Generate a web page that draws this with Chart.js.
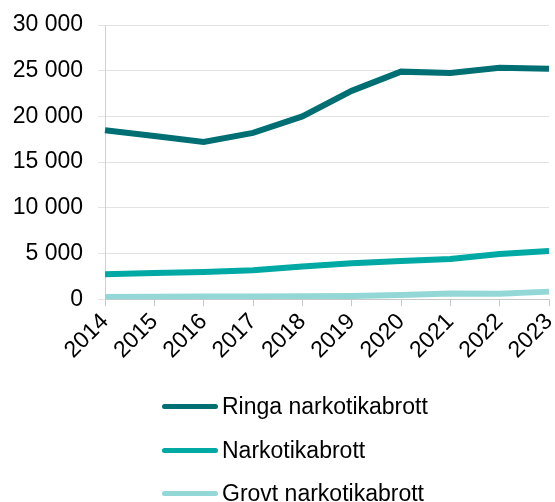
<!DOCTYPE html>
<html>
<head>
<meta charset="utf-8">
<script src="https://cdn.jsdelivr.net/npm/chart.js@4"></script>
<style>
    html, body { margin: 0; padding: 0; background: #fff; overflow: hidden; }
    .wrap { position: relative; width: 555px; height: 502px; overflow: hidden; }
    .chart-box { position: absolute; left: 0; top: 0; width: 555px; height: 380px; }
    .legend { position: absolute; left: 0; top: 0; width: 555px; height: 502px; pointer-events: none; }
    .legend-item { position: absolute; left: 162px; height: 30px; display: flex; align-items: center;
        font-family: "Liberation Sans", Arial, sans-serif; font-size: 23px; color: #000; white-space: nowrap; }
    .legend-item .swatch { width: 56px; height: 5px; border-radius: 3px; margin-right: 4px; }
</style>
</head>
<body>
<div class="wrap">
    <div class="chart-box"><canvas id="chart"></canvas></div>
    <div class="legend" id="legend"></div>
</div>
<script>
// Data
const years = ['2014', '2015', '2016', '2017', '2018', '2019', '2020', '2021', '2022', '2023'];
const ringa = [18500, 17850, 17200, 18200, 20000, 22800, 24900, 24750, 25330, 25220];
const narkotika = [2750, 2870, 2980, 3165, 3600, 3940, 4190, 4410, 4960, 5290];
const grovt = [250, 270, 300, 310, 330, 360, 480, 640, 610, 840];
const seriesNames = ['Ringa narkotikabrott', 'Narkotikabrott', 'Grovt narkotikabrott'];
const seriesColors = ['#006F73', '#00A9A4', '#93D8D6'];
const yTicks = [0, 5000, 10000, 15000, 20000, 25000, 30000];

const FONT = '"Liberation Sans", Arial, sans-serif';

function formatThousands(v) {
    return String(v).replace(/\B(?=(\d{3})+(?!\d))/g, ' ');
}

const ctx = document.getElementById('chart').getContext('2d');
const chart = new Chart(ctx, {
    type: 'line',
    data: {
        labels: years,
        datasets: [ringa, narkotika, grovt].map((values, i) => ({
            label: seriesNames[i],
            data: values,
            borderColor: seriesColors[i],
            backgroundColor: seriesColors[i],
            borderWidth: 6,
            pointRadius: 0,
            tension: 0,
            fill: false
        }))
    },
    options: {
        responsive: true,
        maintainAspectRatio: false,
        animation: false,
        layout: { padding: { top: 25, right: 6, bottom: 14, left: 0 } },
        plugins: {
            legend: { display: false },
            tooltip: { enabled: false }
        },
        scales: {
            x: {
                offset: false,
                grid: { drawOnChartArea: false, drawTicks: true, tickLength: 7, color: '#c8c8c8' },
                border: { color: '#c8c8c8', width: 1 },
                ticks: {
                    color: '#000',
                    font: { family: FONT, size: 23 },
                    minRotation: 45,
                    maxRotation: 45,
                    padding: 2,
                    autoSkip: false
                },
                afterFit: (scale) => {
                    scale.paddingRight = 0;
                    scale.paddingLeft = 0;
                }
            },
            y: {
                min: yTicks[0],
                max: yTicks[yTicks.length - 1],
                afterBuildTicks: (scale) => {
                    scale.ticks = yTicks.map(v => ({ value: v }));
                },
                grid: { color: '#e3e3e3', tickLength: 7, drawTicks: true },
                border: { color: '#d0d0d0', width: 1 },
                ticks: {
                    color: '#000',
                    font: { family: FONT, size: 23 },
                    padding: 15,
                    callback: (v) => formatThousands(v)
                },
                afterFit: (scale) => {
                    scale.width = 105;
                    scale.paddingTop = 0;
                    scale.paddingBottom = 0;
                }
            }
        }
    }
});

// Legend, built from the datasets
const legendEl = document.getElementById('legend');
const legendRows = [406, 450, 493];
chart.data.datasets.forEach((ds, i) => {
    const item = document.createElement('div');
    item.className = 'legend-item';
    item.style.top = (legendRows[i] - 15) + 'px';
    item.innerHTML = `<span class="swatch" style="background:${ds.borderColor}"></span><span>${ds.label}</span>`;
    legendEl.appendChild(item);
});
</script>
</body>
</html>
